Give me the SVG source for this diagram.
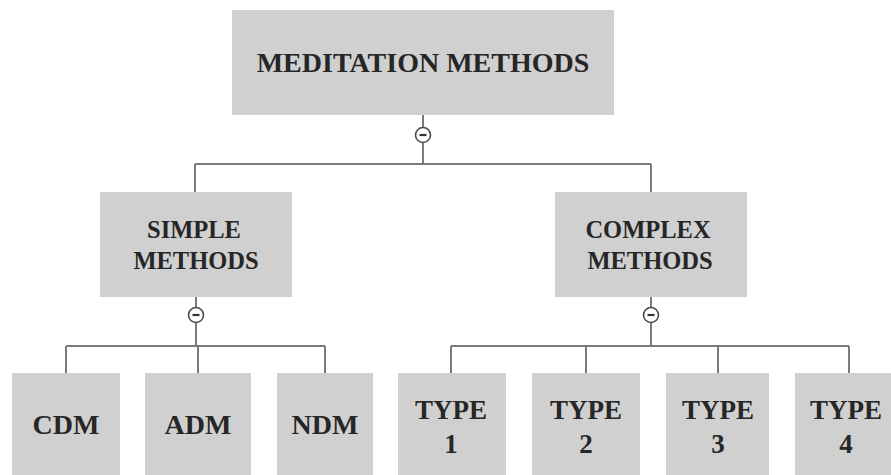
<svg xmlns="http://www.w3.org/2000/svg" width="891" height="475" viewBox="0 0 891 475">
<style>
.box{fill:#d0d0d0;}
.t{font-family:"Liberation Serif","Times New Roman",serif;font-weight:bold;fill:#262626;text-anchor:middle;}
.ln{stroke:#7a7a7a;stroke-width:2;fill:none;}
.cc{fill:#fff;stroke:#4a4a4a;stroke-width:1.6;}
.mn{stroke:#333;stroke-width:2.2;}
</style>
<rect width="891" height="475" fill="#fff"/>
<g id="connectors">
<path class="ln" d="M423,115 V164 M195,164 H651 M195,164 V192 M651,164 V192"/>
<path class="ln" d="M196,297 V346 M66,346 H325 M66,346 V373 M198,346 V373 M325,346 V373"/>
<path class="ln" d="M651,297 V346 M451,346 H849 M451,346 V373 M586,346 V373 M718,346 V373 M849,346 V373"/>
<circle class="cc" cx="423" cy="135" r="7.5"/><line class="mn" x1="419.5" y1="135" x2="426.5" y2="135"/>
<circle class="cc" cx="196" cy="315" r="7.5"/><line class="mn" x1="192.5" y1="315" x2="199.5" y2="315"/>
<circle class="cc" cx="651" cy="315" r="7.5"/><line class="mn" x1="647.5" y1="315" x2="654.5" y2="315"/>
</g>
<g id="meditation">
<rect class="box" x="232" y="10" width="382" height="105"/>
<text class="t" x="423" y="72" font-size="28">MEDITATION METHODS</text>
</g>
<g id="simple">
<rect class="box" x="100" y="192" width="192" height="105"/>
<text class="t" x="194" y="238" font-size="24.5">SIMPLE</text>
<text class="t" x="196" y="269" font-size="24.5">METHODS</text>
</g>
<g id="complex">
<rect class="box" x="555" y="192" width="192" height="105"/>
<text class="t" x="648" y="238" font-size="24.5">COMPLEX</text>
<text class="t" x="650" y="269" font-size="24.5">METHODS</text>
</g>
<g id="cdm">
<rect class="box" x="12" y="373" width="108" height="102"/>
<text class="t" x="66" y="434" font-size="28">CDM</text>
</g>
<g id="adm">
<rect class="box" x="145" y="373" width="106" height="102"/>
<text class="t" x="198" y="434" font-size="28">ADM</text>
</g>
<g id="ndm">
<rect class="box" x="277" y="373" width="96" height="102"/>
<text class="t" x="325" y="434" font-size="28">NDM</text>
</g>
<g id="type1">
<rect class="box" x="398" y="373" width="108" height="102"/>
<text class="t" x="451" y="419" font-size="27">TYPE</text>
<text class="t" x="451" y="453" font-size="27">1</text>
</g>
<g id="type2">
<rect class="box" x="532" y="373" width="108" height="102"/>
<text class="t" x="586" y="419" font-size="27">TYPE</text>
<text class="t" x="586" y="453" font-size="27">2</text>
</g>
<g id="type3">
<rect class="box" x="666" y="373" width="103" height="102"/>
<text class="t" x="718" y="419" font-size="27">TYPE</text>
<text class="t" x="718" y="453" font-size="27">3</text>
</g>
<g id="type4">
<rect class="box" x="795" y="373" width="96" height="102"/>
<text class="t" x="846" y="419" font-size="27">TYPE</text>
<text class="t" x="846" y="453" font-size="27">4</text>
</g>
</svg>
